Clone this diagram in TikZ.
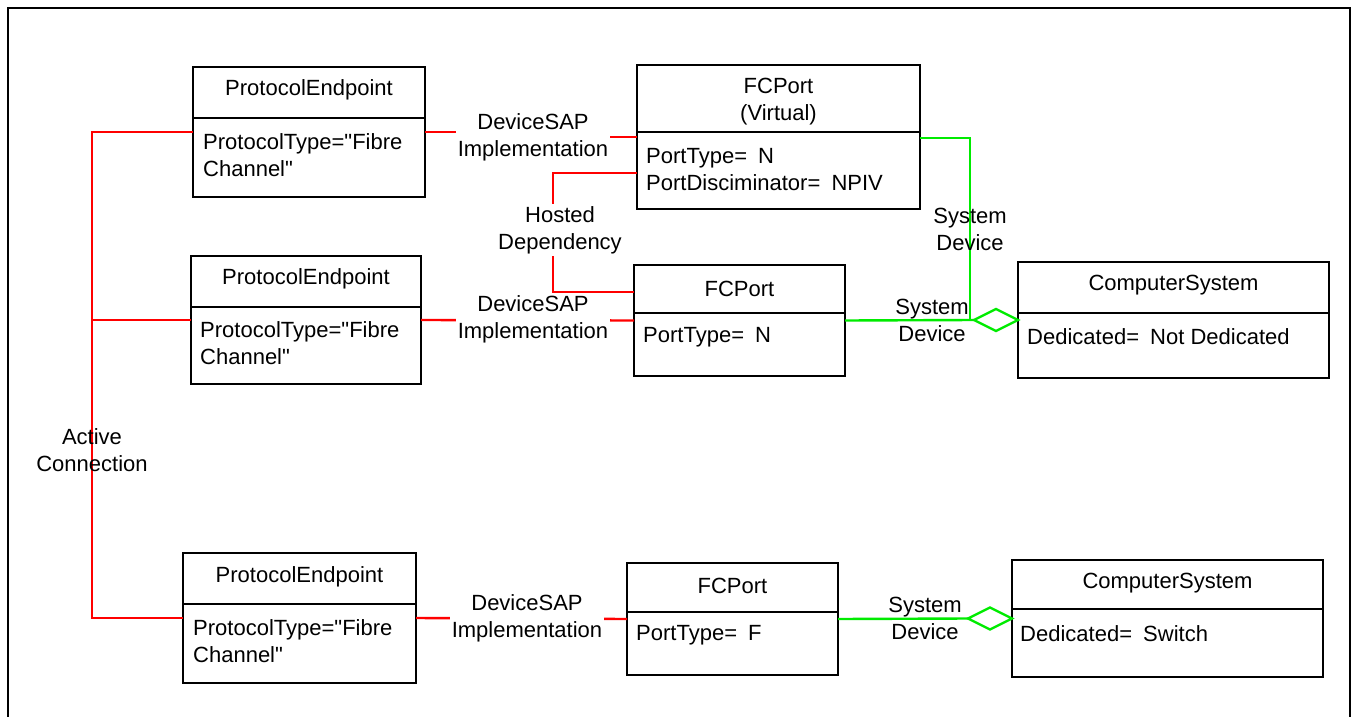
\documentclass[tikz,border=0pt]{standalone}
\usepackage{fontspec}
\setmainfont{Liberation Sans}[Ligatures=TeXOff]
\usetikzlibrary{shapes.geometric}
\definecolor{lred}{RGB}{255,0,0}
\definecolor{lgreen}{RGB}{0,235,0}
\newcommand{\eqgap}{\hspace{5pt}}
\begin{document}
\begin{tikzpicture}[x=1pt,y=-1pt,
  font=\fontsize{22}{27}\selectfont,
  cls/.style={draw=black, line width=2.6pt, anchor=north west, inner sep=0pt, outer sep=0pt},
  divl/.style={draw=black, line width=2.6pt},
  ttl/.style={align=center, inner sep=0pt},
  attr/.style={anchor=west, align=left, inner sep=0pt},
  rl/.style={draw=lred, line width=2.4pt},
  gl/.style={draw=lgreen, line width=2.4pt},
  lblw/.style={align=center, fill=white, inner sep=2pt},
  lbl/.style={align=center, inner sep=0pt},
  dia/.style={diamond, draw=lgreen, line width=2.4pt, aspect=2, minimum width=44pt, minimum height=22pt, inner sep=0pt, outer sep=0pt, anchor=east}]
\useasboundingbox (0,0) rectangle (1354,717);
\clip (0,0) rectangle (1354,717);
\draw[line width=2.6pt] (8,8) rectangle (1350,760);

% boxes
\node[cls, minimum width=232pt, minimum height=130pt] (pe1) at (193,67) {};
\draw[divl] (pe1.west |- 0,118) -- (pe1.east |- 0,118);
\node[ttl] at (pe1.north |- 0,90) {ProtocolEndpoint};
\node[attr] at (203,155) {ProtocolType="Fibre\\Channel"};

\node[cls, minimum width=230pt, minimum height=128pt] (pe2) at (191,256) {};
\draw[divl] (pe2.west |- 0,307) -- (pe2.east |- 0,307);
\node[ttl] at (pe2.north |- 0,279) {ProtocolEndpoint};
\node[attr] at (200,343) {ProtocolType="Fibre\\Channel"};

\node[cls, minimum width=233pt, minimum height=130pt] (pe3) at (183,553) {};
\draw[divl] (pe3.west |- 0,604) -- (pe3.east |- 0,604);
\node[ttl] at (pe3.north |- 0,577) {ProtocolEndpoint};
\node[attr] at (193,641) {ProtocolType="Fibre\\Channel"};

\node[cls, minimum width=283pt, minimum height=144pt] (fcv) at (637,65) {};
\draw[divl] (fcv.west |- 0,132) -- (fcv.east |- 0,132);
\node[ttl] at (fcv.north |- 0,102) {FCPort\\(Virtual)};
\node[attr] at (646,170) {PortType=\eqgap{} N\\PortDisciminator=\eqgap{} NPIV};

\node[cls, minimum width=211pt, minimum height=111pt] (fc2) at (634,265) {};
\draw[divl] (fc2.west |- 0,313) -- (fc2.east |- 0,313);
\node[ttl] at (fc2.north |- 0,289) {FCPort};
\node[attr] at (643,337) {PortType=\eqgap{} N};

\node[cls, minimum width=211pt, minimum height=112pt] (fc3) at (627,563) {};
\draw[divl] (fc3.west |- 0,612) -- (fc3.east |- 0,612);
\node[ttl] at (fc3.north |- 0,586) {FCPort};
\node[attr] at (636,635) {PortType=\eqgap{} F};

\node[cls, minimum width=311pt, minimum height=116pt] (cs1) at (1018,262) {};
\draw[divl] (cs1.west |- 0,313) -- (cs1.east |- 0,313);
\node[ttl] at (cs1.north |- 0,285) {ComputerSystem};
\node[attr] at (1027,337) {Dedicated=\eqgap{} Not Dedicated};

\node[cls, minimum width=311pt, minimum height=117pt] (cs2) at (1012,560) {};
\draw[divl] (cs2.west |- 0,609) -- (cs2.east |- 0,609);
\node[ttl] at (cs2.north |- 0,583) {ComputerSystem};
\node[attr] at (1020,634) {Dedicated=\eqgap{} Switch};

% diamonds
\node[dia] (d1) at (cs1.west) {};
\node[dia] (d2) at (cs2.west) {};

% red connectors
\draw[rl] (pe1.west) -- (pe1.west -| 92,0) -- (pe3.west -| 92,0) -- (pe3.west);
\draw[rl] (pe2.west) -- (pe2.west -| 92,0);
\draw[rl] (pe1.east) -- (pe1.east -| 533,0) -- (fcv.west -| 533,0) -- (fcv.west);
\draw[rl] (pe2.east) -- (fc2.west);
\draw[rl] (pe3.east) -- (fc3.west);
\draw[rl] (fcv.west |- 0,173) -- (553,173) -- (553,292) -- (fc2.west |- 0,292);

% green connectors
\draw[gl] (fcv.east |- 0,138) -- (970,138) -- (970,320);
\draw[gl] (fc2.east) -- (d1.west);
\draw[gl] (fc3.east) -- (d2.west);

% labels
\node[lbl] at (92,450) {Active\\Connection};
\node[lblw] at (533,137) {DeviceSAP\\Implementation};
\node[lblw] at (533,319) {DeviceSAP\\Implementation};
\node[lblw] at (527,618) {DeviceSAP\\Implementation};
\node[lblw] at (560,230) {Hosted\\Dependency};
\node[lbl] at (970,229) {System\\Device};
\node[lbl] at (932,320) {System\\Device};
\node[lbl] at (925,618) {System\\Device};
\end{tikzpicture}
\end{document}
